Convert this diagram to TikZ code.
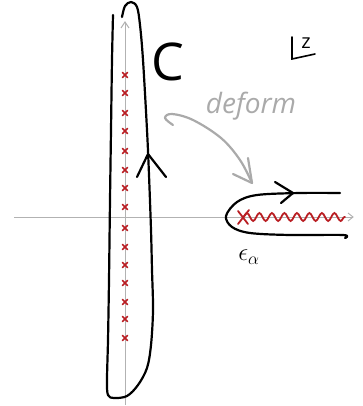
\documentclass[tikz,border=0pt]{standalone}
\usepackage{fontspec}
\setsansfont{Open Sans}
\usetikzlibrary{decorations.pathmorphing,calc}
\definecolor{axisgray}{RGB}{178,178,178}
\definecolor{deformgray}{RGB}{170,170,170}
\definecolor{cutred}{RGB}{185,30,35}
\tikzset{
  axisline/.style={axisgray, line width=1pt},
  ink/.style={black, line width=2.2pt, line cap=round, line join=round},
  grayink/.style={deformgray, line width=2.2pt, line cap=round, line join=round},
  pole/.style={cutred, line width=1.6pt, line cap=round},
  cutline/.style={cutred, line width=1.8pt, line cap=round},
}
\begin{document}
\begin{tikzpicture}[x=1pt,y=-1pt]
\useasboundingbox (0,0) rectangle (362,406);
% axes
\coordinate (vb) at (125,405);
\coordinate (vt) at (125,22);
\coordinate (hl) at (14,217);
\coordinate (hr) at (353,217);
\draw[axisline] (vb) -- (vt);
\draw[axisline] ($(vt)+(-4,6)$) -- (vt) -- ($(vt)+(4,6)$);
\draw[axisline] (hl) -- (hr);
\draw[axisline] ($(hr)+(-5,-4)$) -- (hr) -- ($(hr)+(-5,4)$);
% poles
\foreach \y in {75,93,113,131,151,170,188,207,228,247,265,283,302,319,338}{
  \draw[pole] (122.5,\y-2.5) -- (127.5,\y+2.5);
  \draw[pole] (122.5,\y+2.5) -- (127.5,\y-2.5);
}
% contour C
\draw[ink] plot[smooth, tension=0.55] coordinates {
  (122,17) (125,6) (131,2) (137,7) (140,25) (143,60) (147,130) (149,175)
  (151,230) (152,270) (153,310) (151,345) (147,368) (138,385) (127,396)
  (114,398) (108,395) (107,380) (108,340) (109,280) (110,200) (111,130) (112,60) (113,15)};
\draw[ink] (137,177) -- (148,154) -- (166,177);
\node[font=\sffamily\fontsize{52}{52}\selectfont, inner sep=0pt] (Clabel) at (168,62) {C};
% z marker
\coordinate (za) at (292,37);
\coordinate (zb) at (292,59);
\coordinate (zc) at (315,54);
\draw[black, line width=1.6pt, line cap=round] (za) -- (zb) -- (zc);
\node[font=\sffamily\fontsize{20}{20}\selectfont, inner sep=0pt] (zlabel) at (306,43) {z};
% deform
\node[font=\sffamily\itshape\fontsize{28}{28}\selectfont, text=deformgray, inner sep=0pt, anchor=base] (deform) at (251,114) {deform};
\coordinate (ga) at (173,125);
\coordinate (gtip) at (252,183);
\draw[grayink] plot[smooth, tension=0.6] coordinates {(ga) (165,118) (172,114) (193,120) (221,138) (240,160) (gtip)};
\draw[grayink] (233,174) -- (gtip) -- (248,158);
% keyhole contour
\draw[ink] plot[smooth, tension=0.55] coordinates {
  (340,193) (300,193) (257,195) (237,202) (226,216) (232,227) (250,233) (290,235) (343,235) (345,238)};
\draw[ink] (275,182) -- (293,193) -- (281,203);
% branch cut
\coordinate (bp) at (243,217);
\draw[cutline] (238,211) -- (248,224);
\draw[cutline] (238,224) -- (249,210);
\draw[cutline, decorate, decoration={snake, amplitude=4pt, segment length=12.5pt}] (bp) -- (345,217);
\node[font=\fontsize{23}{23}\selectfont, inner sep=0pt] (eps) at (249,257) {$\epsilon_\alpha$};
\end{tikzpicture}
\end{document}
